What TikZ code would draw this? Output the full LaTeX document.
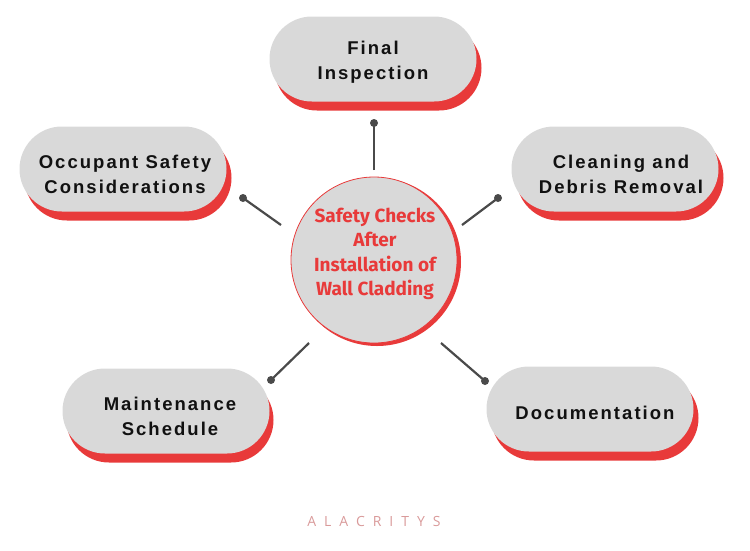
\documentclass[tikz,border=0pt]{standalone}
\usepackage{fontspec}
\setmainfont{Liberation Sans}
\newfontfamily\boxfont[LetterSpace=11]{Liberation Sans}
\newfontfamily\hubfont{Fira Sans}
\newfontfamily\markfont[LetterSpace=57]{Open Sans}
\usepackage{tikz}
\usetikzlibrary{shapes,positioning,calc}
\definecolor{pillgray}{HTML}{D9D9D9}
\definecolor{pillred}{HTML}{E83A3A}
\definecolor{linkgray}{HTML}{4A4A4A}
\definecolor{markpink}{HTML}{D99A9A}
\definecolor{inkblack}{HTML}{111111}

\begin{document}
\begin{tikzpicture}[x=1pt,y=-1pt,
    pill/.style={rounded rectangle,fill=pillgray,minimum width=207pt,minimum height=85pt,inner sep=0pt},
    pillshade/.style={rounded rectangle,fill=pillred,minimum width=207pt,minimum height=85pt,inner sep=0pt},
    pilltext/.style={align=center,text=inkblack,font=\boxfont\bfseries\fontsize{18.5}{25}\selectfont},
    link/.style={draw=linkgray,line width=2.2pt},
    linkdot/.style={circle,fill=linkgray,inner sep=0pt,minimum size=8pt}]
      \useasboundingbox (0,0) rectangle (750,550);

      % shadows first
      \node[pillshade] (finalS) at (378,68) {};
      \node[pillshade] (occupS) at (128,178) {};
      \node[pillshade] (cleanS) at (620,178) {};
      \node[pillshade] (maintS) at (170,420) {};
      \node[pillshade] (docS) at (595,418) {};

      \node[pill] (final) at (373,59) {};
      \node[pill] (occup) at (123,169) {};
      \node[pill] (clean) at (615,169) {};
      \node[pill] (maint) at (166,411) {};
      \node[pill] (doc) at (590,409) {};

      % labels, a bit below the middle of the pills
      \node[pilltext] (finalT) at ($(final)+(0,3)$) {Final\\Inspection};
      \node[pilltext] (occupT) at ($(occup)+(2,5)$) {Occupant Safety\\Considerations};
      \node[pilltext] (cleanT) at ($(clean)+(6,5)$) {Cleaning and\\Debris Removal};
      \node[pilltext] (maintT) at ($(maint)+(4,5)$) {Maintenance\\Schedule};
      \node[pilltext] (docT) at ($(doc)+(5,4)$) {Documentation};

      % hub
      \node[circle,fill=pillred,minimum size=168pt,inner sep=0pt] (hubS) at (377,262) {};
      \node[circle,fill=pillgray,draw=pillred,line width=0.8pt,minimum size=166pt,inner sep=0pt] (hub) at (374,260) {};
      \node[align=center,text=pillred,font=\hubfont\bfseries\fontsize{19}{24.5}\selectfont] (hubT) at (375,254)
        {Safety Checks\\After\\Installation of\\Wall Cladding};

      % connectors
      \coordinate (a1) at (374,123);  \coordinate (a2) at (374,170);
      \coordinate (b1) at (243,198);  \coordinate (b2) at (281,225);
      \coordinate (c1) at (498,198);  \coordinate (c2) at (462,225);
      \coordinate (d1) at (271,380);  \coordinate (d2) at (309,343);
      \coordinate (e1) at (485,381);  \coordinate (e2) at (441,343);

      \path[link]
      (a2) edge (a1)
      (b2) edge (b1)
      (c2) edge (c1)
      (d2) edge (d1)
      (e2) edge (e1);

      \foreach \p in {a1,b1,c1,d1,e1}
        \node[linkdot] at (\p) {};

      \node[text=markpink,font=\markfont\fontsize{14}{16}\selectfont] (mark) at (374,521) {ALACRITYS};
    \end{tikzpicture}
\end{document}
